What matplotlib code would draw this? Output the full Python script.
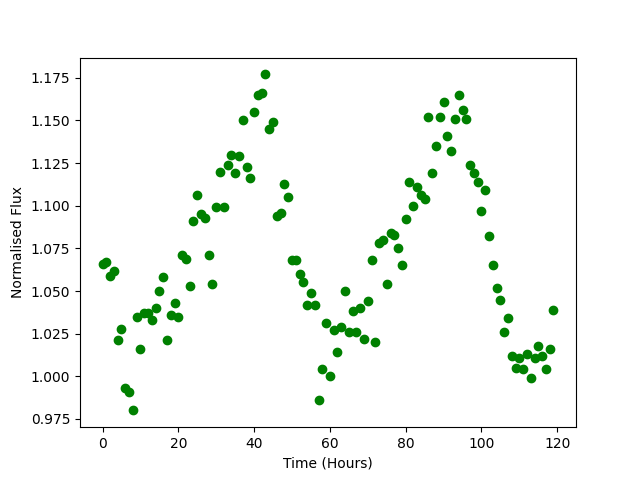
import numpy as np
import matplotlib
matplotlib.use("Agg")
import matplotlib.pyplot as plt

# hourly samples
hours = np.arange(120)
flux = [
    1.066, 1.067, 1.059, 1.062, 1.021, 1.028, 0.993, 0.991, 0.980, 1.035,
    1.016, 1.037, 1.037, 1.033, 1.040, 1.050, 1.058, 1.021, 1.036, 1.043,
    1.035, 1.071, 1.069, 1.053, 1.091, 1.106, 1.095, 1.093, 1.071, 1.054,
    1.099, 1.120, 1.099, 1.124, 1.130, 1.119, 1.129, 1.150, 1.123, 1.116,
    1.155, 1.165, 1.166, 1.177, 1.145, 1.149, 1.094, 1.096, 1.113, 1.105,
    1.068, 1.068, 1.060, 1.055, 1.042, 1.049, 1.042, 0.986, 1.004, 1.031,
    1.000, 1.027, 1.014, 1.029, 1.050, 1.026, 1.038, 1.026, 1.040, 1.022,
    1.044, 1.068, 1.020, 1.078, 1.080, 1.054, 1.084, 1.083, 1.075, 1.065,
    1.092, 1.114, 1.100, 1.111, 1.106, 1.104, 1.152, 1.119, 1.135, 1.152,
    1.161, 1.141, 1.132, 1.151, 1.165, 1.156, 1.151, 1.124, 1.119, 1.114,
    1.097, 1.109, 1.082, 1.065, 1.052, 1.045, 1.026, 1.034, 1.012, 1.005,
    1.011, 1.004, 1.013, 0.999, 1.011, 1.018, 1.012, 1.004, 1.016, 1.039,
]

fig = plt.figure(figsize=(6.4, 4.8), dpi=100)
plt.plot(hours, flux, "o", color="green")
plt.xlabel("Time (Hours)")
plt.ylabel("Normalised Flux")
plt.savefig("out.png")
